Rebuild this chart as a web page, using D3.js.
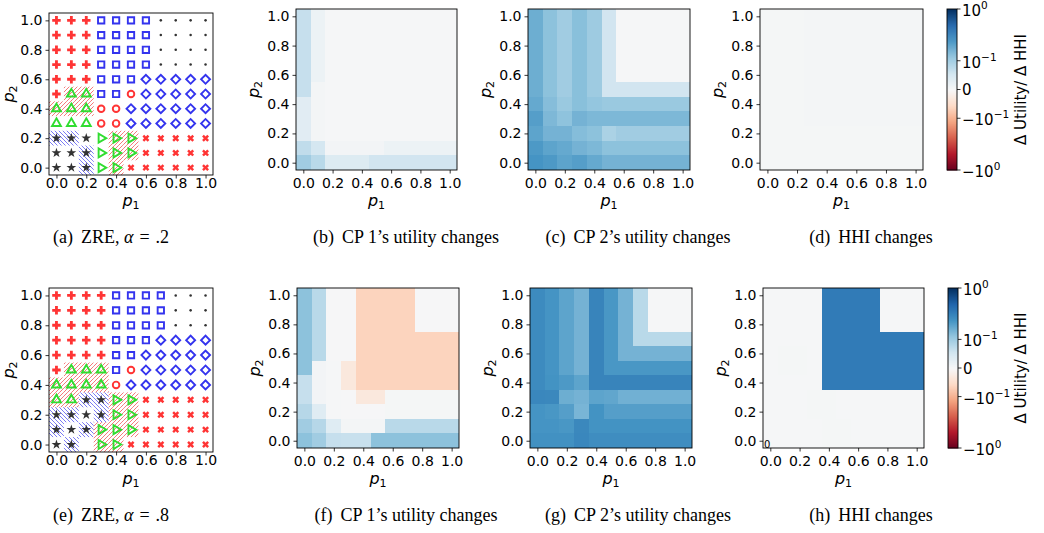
<!DOCTYPE html>
<html>
<head>
<meta charset="utf-8">
<script src="https://cdn.jsdelivr.net/npm/d3@7"></script>
<style>
body { margin: 0; background: #fff; overflow: hidden; }
text { font-family: "DejaVu Sans", sans-serif; }
.cap { font-family: "Liberation Serif", serif; font-size: 18px; }
</style>
</head>
<body>
<svg id="fig" width="1044" height="533"></svg>
<script>
// price grid (both p1 and p2)
const pGrid = [0, 0.1, 0.2, 0.3, 0.4, 0.5, 0.6, 0.7, 0.8, 0.9, 1.0];
const axisTicks = [0, 0.2, 0.4, 0.6, 0.8, 1.0];
const cbarTicks = [1, 0.1, 0, -0.1, -1];
const cbarTickText = [["10", "0"], ["10", "\u22121"], ["0", ""], ["\u221210", "\u22121"], ["\u221210", "0"]];

// ZRE outcome per grid point, rows from p2 = 1.0 down to p2 = 0.0
// P plus, s square, . dot, D diamond, o circle, ^ triangle, * star, > right triangle, X cross
const zreA2 = [
	"PPPssss....",
	"PPPssss....",
	"PPPssss....",
	"PPPssss....",
	"PPPsssDDDDD",
	"P^^ssoDDDDD",
	"^^^ooDDDDDD",
	"^^^ooDDDDDD",
	"***>>>XXXXX",
	"***>>>XXXXX",
	"***>>XXXXXX"
];
const hatchA2 = [
	"-----------",
	"-----------",
	"-----------",
	"-----------",
	"-----------",
	"-rr--------",
	"rrr--------",
	"-----------",
	"bb--rr-----",
	"--b-rr-----",
	"--b-r------"
];
const zreA8 = [
	"PPPPssss...",
	"PPPPssss...",
	"PPPPssss...",
	"PPPPsssDDDD",
	"PPPPssDDDDD",
	"P^^^soDDDDD",
	"^^^^oDDDDDD",
	"^^**>>XXXXX",
	"****>>XXXXX",
	"***>>>XXXXX",
	"** >>XXXXXX"
];
const hatchA8 = [
	"-----------",
	"-----------",
	"-----------",
	"-----------",
	"-----------",
	"-rrr-------",
	"rrrr-------",
	"rrbbrr-----",
	"bb-brr-----",
	"b-brrr-----",
	"-b-rr------"
];

// utility / HHI changes, rows from p2 = 1.0 down to p2 = 0.0, columns p1 = 0.0 .. 1.0
const cp1A2 = [
	[0.066, 0.016, 0.003, 0.003, 0.003, 0.003, 0.003, 0.003, 0.003, 0.003, 0.003],
	[0.066, 0.016, 0.003, 0.003, 0.003, 0.003, 0.003, 0.003, 0.003, 0.003, 0.003],
	[0.066, 0.016, 0.003, 0.003, 0.003, 0.003, 0.003, 0.003, 0.003, 0.003, 0.003],
	[0.066, 0.016, 0.003, 0.003, 0.003, 0.003, 0.003, 0.003, 0.003, 0.003, 0.003],
	[0.066, 0.016, 0.003, 0.003, 0.003, 0.003, 0.003, 0.003, 0.003, 0.003, 0.003],
	[0.066, 0.006, 0.003, 0.003, 0.003, 0.003, 0.003, 0.003, 0.003, 0.003, 0.003],
	[0.033, 0.006, 0.003, 0.003, 0.003, 0.003, 0.003, 0.003, 0.003, 0.003, 0.003],
	[0.033, 0.006, 0.003, 0.003, 0.003, 0.003, 0.003, 0.003, 0.003, 0.003, 0.003],
	[0.033, 0.006, 0.003, 0.003, 0.003, 0.003, 0.003, 0.003, 0.003, 0.003, 0.003],
	[0.071, 0.050, 0.008, 0.008, 0.008, 0.008, 0.016, 0.016, 0.016, 0.016, 0.016],
	[0.099, 0.077, 0.038, 0.038, 0.038, 0.055, 0.055, 0.055, 0.055, 0.055, 0.055]
];
const cp2A2 = [
	[0.163, 0.122, 0.099, 0.126, 0.102, 0.055, 0.003, 0.003, 0.003, 0.003, 0.003],
	[0.163, 0.122, 0.099, 0.126, 0.102, 0.055, 0.003, 0.003, 0.003, 0.003, 0.003],
	[0.163, 0.122, 0.099, 0.126, 0.102, 0.055, 0.003, 0.003, 0.003, 0.003, 0.003],
	[0.163, 0.122, 0.099, 0.126, 0.102, 0.055, 0.003, 0.003, 0.003, 0.003, 0.003],
	[0.163, 0.122, 0.099, 0.126, 0.102, 0.055, 0.003, 0.003, 0.003, 0.003, 0.003],
	[0.163, 0.122, 0.099, 0.126, 0.102, 0.055, 0.055, 0.055, 0.055, 0.055, 0.055],
	[0.175, 0.130, 0.106, 0.126, 0.114, 0.106, 0.106, 0.106, 0.106, 0.106, 0.106],
	[0.203, 0.140, 0.120, 0.152, 0.141, 0.141, 0.141, 0.141, 0.141, 0.141, 0.141],
	[0.188, 0.152, 0.152, 0.131, 0.122, 0.090, 0.099, 0.099, 0.099, 0.099, 0.099],
	[0.218, 0.188, 0.175, 0.152, 0.141, 0.122, 0.122, 0.122, 0.122, 0.122, 0.122],
	[0.234, 0.218, 0.188, 0.203, 0.175, 0.152, 0.152, 0.152, 0.152, 0.152, 0.152]
];
const hhiA2 = [
	[0.004, 0.004, 0.004, 0.006, 0.006, 0.006, 0.006, 0.006, 0.006, 0.006, 0.006],
	[0.004, 0.004, 0.004, 0.006, 0.006, 0.006, 0.006, 0.006, 0.006, 0.006, 0.006],
	[0.004, 0.004, 0.004, 0.006, 0.006, 0.006, 0.006, 0.006, 0.006, 0.006, 0.006],
	[0.004, 0.004, 0.004, 0.006, 0.006, 0.006, 0.006, 0.006, 0.006, 0.006, 0.006],
	[0.004, 0.004, 0.004, 0.006, 0.006, 0.006, 0.006, 0.006, 0.006, 0.006, 0.006],
	[0.004, 0.004, 0.004, 0.006, 0.006, 0.006, 0.006, 0.006, 0.006, 0.006, 0.006],
	[0.004, 0.004, 0.004, 0.006, 0.006, 0.006, 0.006, 0.006, 0.006, 0.006, 0.006],
	[0.004, 0.004, 0.004, 0.006, 0.006, 0.006, 0.006, 0.006, 0.006, 0.006, 0.006],
	[0.004, 0.004, 0.004, 0.004, 0.004, 0.004, 0.004, 0.004, 0.004, 0.004, 0.004],
	[0.004, 0.004, 0.004, 0.004, 0.004, 0.004, 0.004, 0.004, 0.004, 0.004, 0.004],
	[0.004, 0.004, 0.004, 0.004, 0.004, 0.004, 0.004, 0.004, 0.004, 0.004, 0.004]
];
const cp1A8 = [
	[0.122, 0.077, 0.002, 0.002, -0.063, -0.063, -0.063, -0.063, 0.002, 0.002, 0.002],
	[0.122, 0.077, 0.002, 0.002, -0.063, -0.063, -0.063, -0.063, 0.002, 0.002, 0.002],
	[0.122, 0.077, 0.002, 0.002, -0.063, -0.063, -0.063, -0.063, 0.002, 0.002, 0.002],
	[0.122, 0.077, 0.002, 0.002, -0.063, -0.063, -0.063, -0.063, -0.063, -0.063, -0.063],
	[0.122, 0.077, 0.002, 0.002, -0.063, -0.063, -0.063, -0.063, -0.063, -0.063, -0.063],
	[0.122, 0.008, 0.003, -0.030, -0.063, -0.063, -0.063, -0.063, -0.063, -0.063, -0.063],
	[0.066, 0.008, 0.003, -0.030, -0.063, -0.063, -0.063, -0.063, -0.063, -0.063, -0.063],
	[0.066, 0.008, 0.003, 0.002, -0.030, -0.030, 0.004, 0.004, 0.004, 0.004, 0.004],
	[0.080, 0.035, 0.003, 0.002, 0.002, 0.002, 0.004, 0.004, 0.004, 0.004, 0.004],
	[0.099, 0.080, 0.035, 0.006, 0.006, 0.006, 0.077, 0.077, 0.077, 0.077, 0.077],
	[0.122, 0.099, 0.066, 0.064, 0.064, 0.122, 0.122, 0.122, 0.122, 0.122, 0.122]
];
const cp2A8 = [
	[0.271, 0.234, 0.188, 0.152, 0.302, 0.226, 0.152, 0.077, 0.003, 0.003, 0.003],
	[0.271, 0.234, 0.188, 0.152, 0.302, 0.226, 0.152, 0.077, 0.003, 0.003, 0.003],
	[0.271, 0.234, 0.188, 0.152, 0.302, 0.226, 0.152, 0.077, 0.003, 0.003, 0.003],
	[0.271, 0.234, 0.188, 0.152, 0.302, 0.226, 0.152, 0.077, 0.077, 0.077, 0.077],
	[0.271, 0.234, 0.188, 0.152, 0.302, 0.226, 0.152, 0.152, 0.152, 0.152, 0.152],
	[0.271, 0.234, 0.188, 0.152, 0.302, 0.226, 0.226, 0.226, 0.226, 0.226, 0.226],
	[0.271, 0.240, 0.218, 0.188, 0.302, 0.302, 0.302, 0.302, 0.302, 0.302, 0.302],
	[0.291, 0.285, 0.163, 0.152, 0.188, 0.181, 0.157, 0.157, 0.157, 0.157, 0.157],
	[0.234, 0.226, 0.203, 0.146, 0.240, 0.203, 0.203, 0.203, 0.203, 0.203, 0.203],
	[0.234, 0.234, 0.226, 0.285, 0.240, 0.240, 0.240, 0.240, 0.240, 0.240, 0.240],
	[0.245, 0.245, 0.245, 0.291, 0.262, 0.262, 0.262, 0.262, 0.262, 0.262, 0.262]
];
const hhiA8 = [
	[0.003, 0.003, 0.003, 0.003, 0.350, 0.350, 0.350, 0.350, 0.003, 0.003, 0.003],
	[0.003, 0.003, 0.003, 0.003, 0.350, 0.350, 0.350, 0.350, 0.003, 0.003, 0.003],
	[0.003, 0.003, 0.003, 0.003, 0.350, 0.350, 0.350, 0.350, 0.003, 0.003, 0.003],
	[0.003, 0.003, 0.003, 0.003, 0.350, 0.350, 0.350, 0.350, 0.350, 0.350, 0.350],
	[0.003, 0.004, 0.004, 0.003, 0.350, 0.350, 0.350, 0.350, 0.350, 0.350, 0.350],
	[0.003, 0.004, 0.004, 0.003, 0.350, 0.350, 0.350, 0.350, 0.350, 0.350, 0.350],
	[0.003, 0.003, 0.003, 0.003, 0.350, 0.350, 0.350, 0.350, 0.350, 0.350, 0.350],
	[0.003, 0.003, 0.003, 0.004, 0.004, 0.003, 0.003, 0.003, 0.003, 0.003, 0.003],
	[0.003, 0.003, 0.003, 0.004, 0.004, 0.003, 0.003, 0.003, 0.003, 0.003, 0.003],
	[0.003, 0.003, 0.003, 0.003, 0.004, 0.004, 0.003, 0.003, 0.003, 0.003, 0.003],
	[0.003, 0.003, 0.003, 0.003, 0.004, 0.004, 0.003, 0.003, 0.003, 0.003, 0.003]
];

const capTags = ["(a)", "(b)", "(c)", "(d)", "(e)", "(f)", "(g)", "(h)"];
const capTexts = ["ZRE, \u03b1 = .2", "CP 1\u2019s utility changes", "CP 2\u2019s utility changes", "HHI changes",
	"ZRE, \u03b1 = .8", "CP 1\u2019s utility changes", "CP 2\u2019s utility changes", "HHI changes"];

// ---- styles / layout
const RED = "#ff3434", BLUE = "#3434ee", GREEN = "#30dd30", DARK = "#333";
const rdbuColors = ["#67001f", "#b2182b", "#d6604d", "#f4a582", "#fddbc7", "#f7f7f7",
	"#d1e5f0", "#92c5de", "#4393c3", "#2166ac", "#053061"];

const markers = {
	"P": { type: d3.symbolCross, size: 40, fill: RED },
	"X": { type: d3.symbolCross, size: 30, rot: 45, fill: RED },
	"s": { type: d3.symbolSquare, size: 40, stroke: BLUE },
	"D": { type: d3.symbolSquare, size: 40, rot: 45, stroke: BLUE },
	"o": { type: d3.symbolCircle, size: 34, stroke: RED },
	"^": { type: d3.symbolTriangle, size: 34, stroke: GREEN },
	">": { type: d3.symbolTriangle, size: 34, rot: 90, stroke: GREEN },
	"*": { type: d3.symbolStar, size: 30, fill: DARK },
	".": { type: d3.symbolCircle, size: 5, fill: DARK }
};

const panels = [
	{ kind: "zre", codes: zreA2, hatch: hatchA2, box: { l: 49, t: 13, r: 213, b: 175 }, ylab: 35, pad: 0, cap: 111, row: 0 },
	{ kind: "heat", mat: cp1A2, box: { l: 296, t: 9, r: 457, b: 170 }, ylab: 37, pad: 4.5, cap: 406, row: 0 },
	{ kind: "heat", mat: cp2A2, box: { l: 528, t: 9, r: 690, b: 170 }, ylab: 37, pad: 4.5, cap: 638, row: 0 },
	{ kind: "heat", mat: hhiA2, box: { l: 760, t: 9, r: 923, b: 170 }, ylab: 37, pad: 4.5, cap: 871, row: 0 },
	{ kind: "zre", codes: zreA8, hatch: hatchA8, box: { l: 49, t: 288, r: 213, b: 452 }, ylab: 35, pad: 0, cap: 111, row: 1 },
	{ kind: "heat", mat: cp1A8, box: { l: 297, t: 288, r: 459, b: 448 }, ylab: 37, pad: 4.5, cap: 406, row: 1 },
	{ kind: "heat", mat: cp2A8, box: { l: 530, t: 288, r: 692, b: 448 }, ylab: 37, pad: 4.5, cap: 638, row: 1 },
	{ kind: "heat", mat: hhiA8, box: { l: 763, t: 288, r: 924, b: 448 }, ylab: 37, pad: 4.5, cap: 871, row: 1, zero: true }
];
const cbars = [{ l: 947, t: 9, r: 957, b: 170 }, { l: 948, t: 288, r: 958, b: 448 }];
const rowShift = [0, 278];

const svg = d3.select("#fig");
const defs = svg.append("defs");

function hatchPattern(id, color, up) {
	const p = defs.append("pattern")
		.attr("id", id)
		.attr("patternUnits", "userSpaceOnUse")
		.attr("width", 4)
		.attr("height", 4);
	p.append("path")
		.attr("d", up ? "M-1,1 l2,-2 M0,4 l4,-4 M3,5 l2,-2" : "M-1,3 l2,2 M0,0 l4,4 M3,-1 l2,2")
		.attr("stroke", color)
		.attr("stroke-width", 0.7)
		.attr("fill", "none");
}
hatchPattern("hatchR", "#ee4040", true);
hatchPattern("hatchB", "#4040ee", false);

// symmetric log norm (linthresh 0.1, linscale 0.5)
function symlog(v) {
	const a = 0.556, c = 0.1, s = Math.abs(v);
	const y = s <= c ? a * s / c : a + Math.log10(s / c);
	return Math.sign(v) * y;
}
const norm = d3.scaleLinear().domain([-symlog(1), symlog(1)]).range([0, 1]);
const rdbu = d3.scaleLinear().domain(d3.range(11).map(i => i / 10)).range(rdbuColors);
const colorOf = v => rdbu(norm(symlog(v)));

function scales(b) {
	const x = d3.scaleLinear().domain([-0.05, 1.05]).range([b.l, b.r]);
	const y = d3.scaleLinear().domain([-0.05, 1.05]).range([b.b, b.t]);
	return { x, y };
}

function gridCells(rows, get) {
	const out = [];
	rows.forEach((row, r) => {
		for (let i = 0; i < 11; i++) out.push({ p1: pGrid[i], p2: pGrid[10 - r], v: get(row, i) });
	});
	return out;
}

function cellRect(sel, x, y) {
	sel.attr("x", d => x(d.p1 - 0.05))
		.attr("y", d => y(d.p2 + 0.05))
		.attr("width", d => x(d.p1 + 0.05) - x(d.p1 - 0.05))
		.attr("height", d => y(d.p2 - 0.05) - y(d.p2 + 0.05));
}

function drawAxes(g, p, x, y) {
	const b = p.box;
	const xa = g.append("g")
		.attr("transform", "translate(0," + b.b + ")")
		.call(d3.axisBottom(x).tickValues(axisTicks).tickFormat(d3.format(".1f")).tickSize(3.5).tickPadding(p.pad));
	const ya = g.append("g")
		.attr("transform", "translate(" + b.l + ",0)")
		.call(d3.axisLeft(y).tickValues(axisTicks).tickFormat(d3.format(".1f")).tickSize(3.5).tickPadding(3));
	[xa, ya].forEach(a => {
		a.select(".domain").remove();
		a.selectAll("line").attr("stroke", "#000").attr("stroke-width", 0.8);
		a.selectAll("text").attr("font-size", 14).attr("font-family", "DejaVu Sans").attr("fill", "#000");
	});

	g.append("rect")
		.attr("x", b.l).attr("y", b.t)
		.attr("width", b.r - b.l).attr("height", b.b - b.t)
		.attr("fill", "none").attr("stroke", "#000").attr("stroke-width", 0.9);

	// p1 label
	const xl = g.append("text")
		.attr("x", (b.l + b.r) / 2)
		.attr("y", 206 + rowShift[p.row])
		.attr("text-anchor", "middle")
		.attr("font-size", 16);
	xl.append("tspan").attr("font-style", "italic").text("p");
	xl.append("tspan").attr("font-size", 11).attr("dy", 3).text("1");

	// p2 label
	const cy = (b.t + b.b) / 2, lx = b.l - p.ylab;
	const yl = g.append("text")
		.attr("transform", "translate(" + lx + "," + cy + ") rotate(-90)")
		.attr("text-anchor", "middle")
		.attr("font-size", 16);
	yl.append("tspan").attr("font-style", "italic").text("p");
	yl.append("tspan").attr("font-size", 11).attr("dy", 3).text("2");
}

function drawZre(g, p) {
	const { x, y } = scales(p.box);
	const cells = gridCells(p.codes, (row, i) => row[i]);
	const hcells = gridCells(p.hatch, (row, i) => row[i]);

	g.selectAll("rect.hatch")
		.data(hcells.filter(d => d.v !== "-"))
		.join("rect")
		.attr("class", "hatch")
		.call(cellRect, x, y)
		.attr("fill", d => d.v === "r" ? "url(#hatchR)" : "url(#hatchB)");

	g.selectAll("path.mk")
		.data(cells.filter(d => d.v !== " "))
		.join("path")
		.attr("class", "mk")
		.attr("transform", d => "translate(" + x(d.p1) + "," + y(d.p2) + ") rotate(" + (markers[d.v].rot || 0) + ")")
		.attr("d", d => d3.symbol(markers[d.v].type, markers[d.v].size)())
		.attr("fill", d => markers[d.v].fill || "none")
		.attr("stroke", d => markers[d.v].stroke || "none")
		.attr("stroke-width", 1.9);

	drawAxes(g, p, x, y);
}

function drawHeat(g, p) {
	const { x, y } = scales(p.box);
	const cells = gridCells(p.mat, (row, i) => row[i]);

	g.selectAll("rect.cell")
		.data(cells)
		.join("rect")
		.attr("class", "cell")
		.call(cellRect, x, y)
		.attr("fill", d => colorOf(d.v))
		.attr("shape-rendering", "crispEdges");

	if (p.zero) {
		g.append("text")
			.attr("x", x(-0.05) + 1)
			.attr("y", y(-0.05) - 0.5)
			.attr("font-size", 10)
			.text("0");
	}

	drawAxes(g, p, x, y);
}

function drawColorbar(b) {
	const g = svg.append("g");
	const top = symlog(1);
	const yS = d3.scaleLinear().domain([-top, top]).range([b.b, b.t]);
	const steps = d3.range(161).map(k => -top + 2 * top * k / 160);

	g.selectAll("rect.cb")
		.data(steps.slice(0, -1))
		.join("rect")
		.attr("class", "cb")
		.attr("x", b.l)
		.attr("width", b.r - b.l)
		.attr("y", (d, k) => yS(steps[k + 1]))
		.attr("height", (d, k) => yS(steps[k]) - yS(steps[k + 1]) + 0.5)
		.attr("fill", (d, k) => rdbu(norm((steps[k] + steps[k + 1]) / 2)));

	g.append("rect")
		.attr("x", b.l).attr("y", b.t)
		.attr("width", b.r - b.l).attr("height", b.b - b.t)
		.attr("fill", "none").attr("stroke", "#000").attr("stroke-width", 0.9);

	cbarTicks.forEach((v, k) => {
		const ty = yS(symlog(v));
		g.append("line")
			.attr("x1", b.r).attr("x2", b.r + 3.5)
			.attr("y1", ty).attr("y2", ty)
			.attr("stroke", "#000").attr("stroke-width", 0.8);
		const t = g.append("text")
			.attr("x", b.r + 5)
			.attr("y", ty + (cbarTickText[k][1] ? 7 : 5.5))
			.attr("font-size", 15);
		t.append("tspan").text(cbarTickText[k][0]);
		if (cbarTickText[k][1]) t.append("tspan").attr("font-size", 10.5).attr("dy", -7).text(cbarTickText[k][1]);
	});

	g.append("text")
		.attr("transform", "translate(1026," + (b.t + b.b) / 2 + ") rotate(-90)")
		.attr("text-anchor", "middle")
		.attr("font-size", 15)
		.text("\u0394 Utility/ \u0394 HHI");
}

function drawCaption(p, k) {
	const t = svg.append("text")
		.attr("class", "cap")
		.attr("x", p.cap)
		.attr("y", 243 + rowShift[p.row])
		.attr("text-anchor", "middle");
	t.append("tspan").text(capTags[k]);
	const parts = capTexts[k].split("\u03b1");
	t.append("tspan").attr("dx", 8).text(parts[0]);
	if (parts.length > 1) {
		// math-mode spacing around "="
		const rhs = parts[1].split("=");
		t.append("tspan").attr("font-style", "italic").text("\u03b1");
		t.append("tspan").attr("dx", 1.5).text(rhs[0] + "=");
		t.append("tspan").attr("dx", 1.5).text(rhs[1]);
	}
}

panels.forEach((p, k) => {
	const g = svg.append("g");
	if (p.kind === "zre") drawZre(g, p);
	else drawHeat(g, p);
	drawCaption(p, k);
});
cbars.forEach(drawColorbar);
</script>
</body>
</html>
